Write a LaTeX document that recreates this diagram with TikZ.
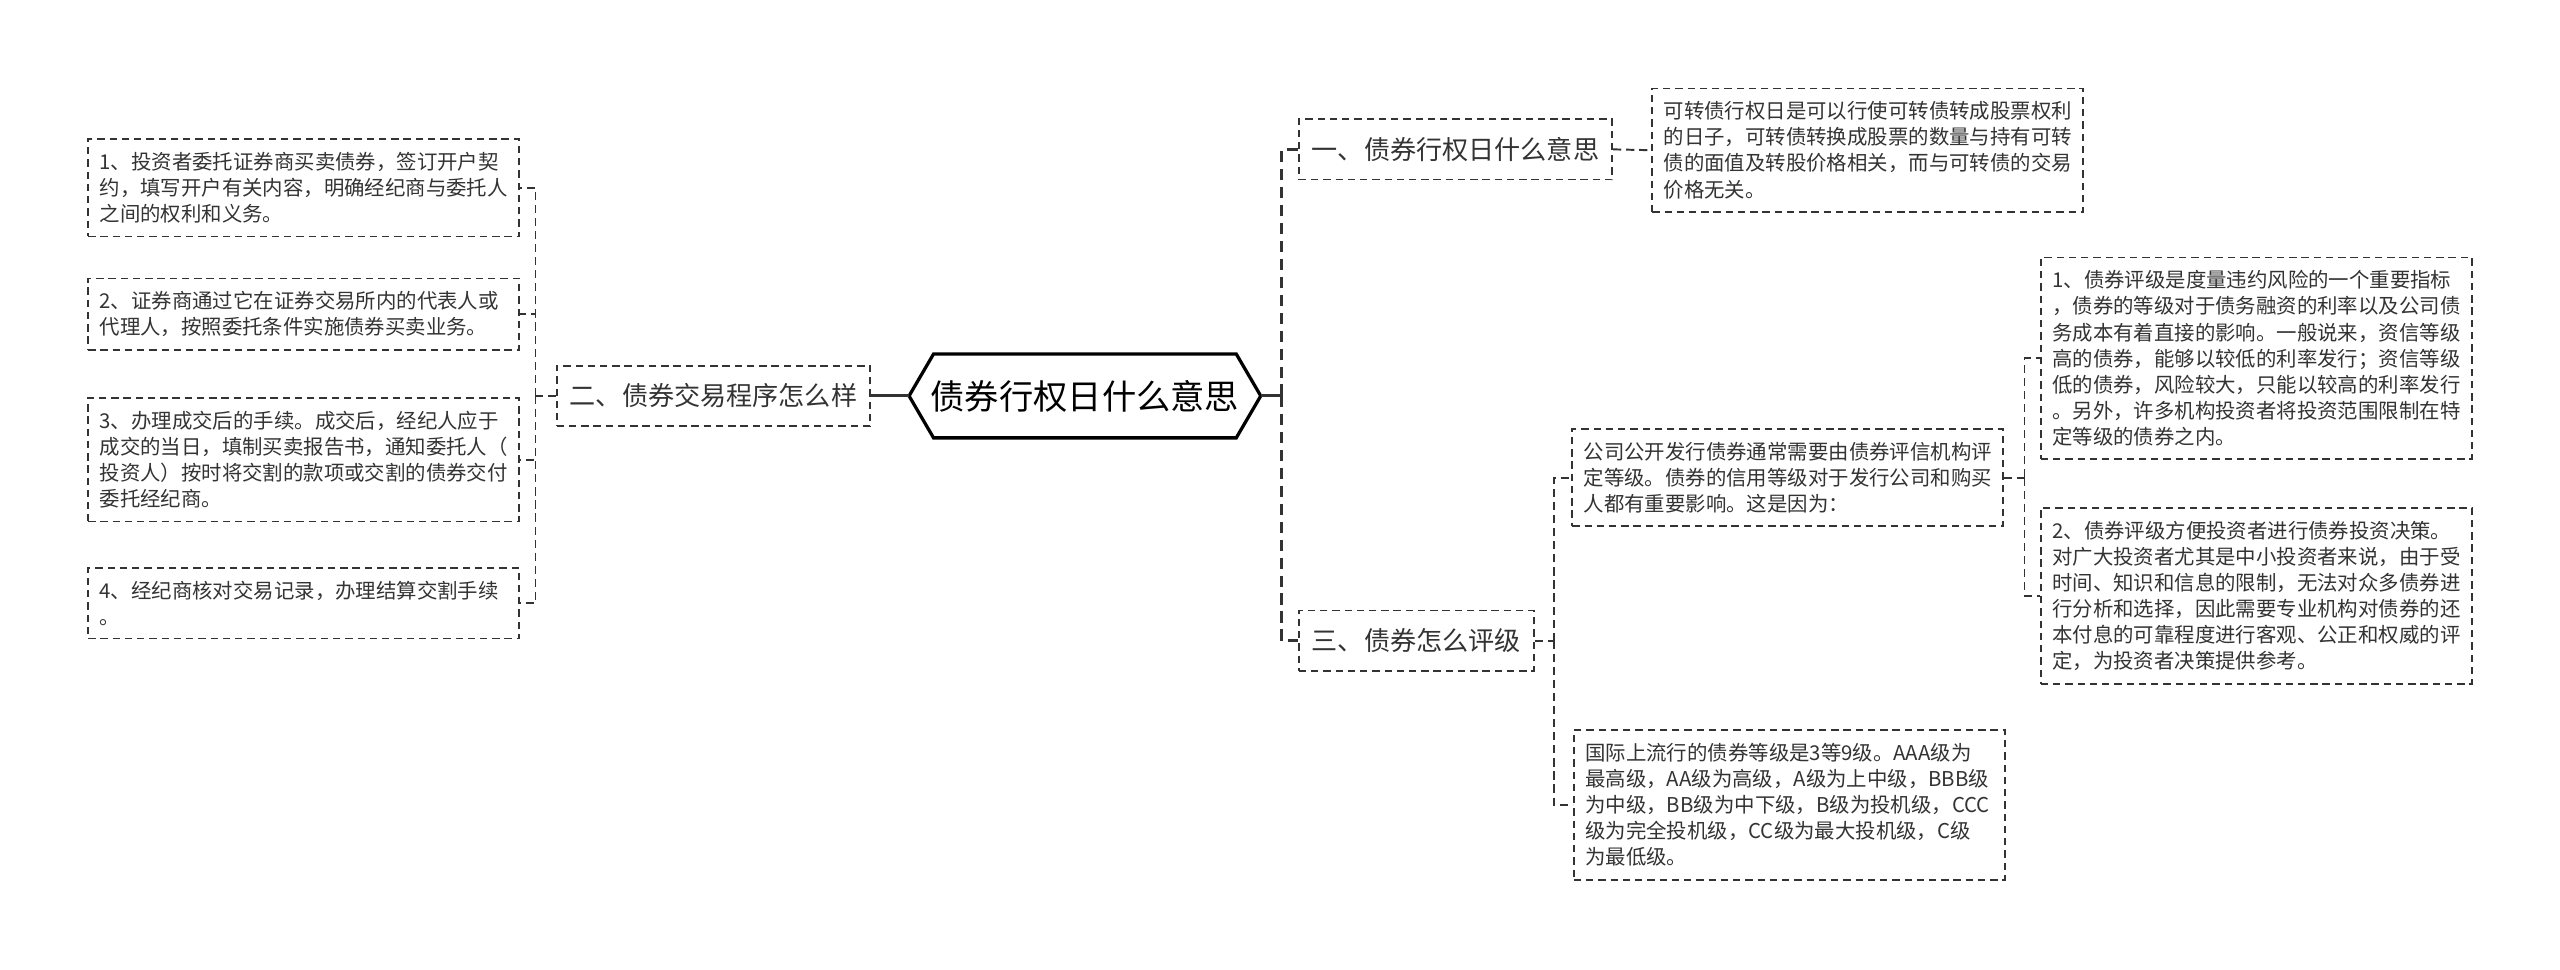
\documentclass[tikz,border=0pt]{standalone}
\usepackage{fontspec}
\setmainfont{Noto Sans CJK SC}
\usepackage{tikz}
\usetikzlibrary{positioning}
\definecolor{inkgray}{HTML}{333333}
\definecolor{edgegray}{HTML}{333333}

\begin{document}
\begin{tikzpicture}[x=1pt,y=-1pt]

%--------------------------------------------------
% STYLES
%--------------------------------------------------

\tikzset{
leafbox/.style={
draw=edgegray,
dash pattern=on 4.5pt off 3pt,
line width=1pt,
text=inkgray,
text width=250pt,
align=left,
inner xsep=7pt,
inner ysep=8pt,
font=\fontsize{12.5pt}{16pt}\selectfont
},
branchbox/.style={
draw=edgegray,
dash pattern=on 4.5pt off 3pt,
line width=1pt,
text=inkgray,
inner xsep=8pt,
minimum height=37pt,
font=\fontsize{16pt}{19pt}\selectfont
},
rootbox/.style={
text=black,
minimum width=215pt,
minimum height=51pt,
inner sep=0pt,
font=\fontsize{21pt}{25pt}\selectfont
},
link/.style={
draw=edgegray,
line width=1.2pt,
dash pattern=on 5pt off 3pt
},
rootlink/.style={
draw=edgegray,
line width=1.8pt,
dash pattern=on 7pt off 4pt
}
}

\useasboundingbox[fill=white] (0,0) rectangle (1568,594);

%--------------------------------------------------
% ROOT
%--------------------------------------------------

\node[rootbox] (root) at (664.5,242.5)
{债券行权日什么意思};

\draw[line width=2pt,black,line join=miter]
(root.west)--([xshift=15pt]root.north west)--([xshift=-15pt]root.north east)
--(root.east)--([xshift=-15pt]root.south east)--([xshift=15pt]root.south west)--cycle;

%--------------------------------------------------
% LEFT: TRADING STEPS
%--------------------------------------------------

\node[branchbox] (trade) at (437,242.5)
{二、债券交易程序怎么样};

\node[leafbox] (stepa) at (186,115)
{1、投资者委托证券商买卖债券，签订开户契\\约，填写开户有关内容，明确经纪商与委托人\\之间的权利和义务。};

\node[leafbox] (stepb) at (186,192.5)
{2、证券商通过它在证券交易所内的代表人或\\代理人，按照委托条件实施债券买卖业务。};

\node[leafbox] (stepc) at (186,281.5)
{3、办理成交后的手续。成交后，经纪人应于\\成交的当日，填制买卖报告书，通知委托人（\\投资人）按时将交割的款项或交割的债券交付\\委托经纪商。};

\node[leafbox] (stepd) at (186,369.5)
{4、经纪商核对交易记录，办理结算交割手续\\。};

%--------------------------------------------------
% RIGHT: MEANING
%--------------------------------------------------

\node[branchbox] (meaning) at (891.5,91.5)
{一、债券行权日什么意思};

\node[leafbox] (meaningtxt) at (1144,92)
{可转债行权日是可以行使可转债转成股票权利\\的日子，可转债转换成股票的数量与持有可转\\债的面值及转股价格相关，而与可转债的交易\\价格无关。};

%--------------------------------------------------
% RIGHT: RATING
%--------------------------------------------------

\node[branchbox] (rating) at (867.5,392.5)
{三、债券怎么评级};

\node[leafbox] (ratingwhy) at (1095,292.5)
{公司公开发行债券通常需要由债券评信机构评\\定等级。债券的信用等级对于发行公司和购买\\人都有重要影响。这是因为：};

\node[leafbox] (ratingscale) at (1096,493)
{国际上流行的债券等级是3等9级。AAA级为\\最高级，AA级为高级，A级为上中级，BBB级\\为中级，BB级为中下级，B级为投机级，CCC\\级为完全投机级，CC级为最大投机级，C级\\为最低级。};

\node[leafbox] (reasona) at (1382,219.5)
{1、债券评级是度量违约风险的一个重要指标\\，债券的等级对于债务融资的利率以及公司债\\务成本有着直接的影响。一般说来，资信等级\\高的债券，能够以较低的利率发行；资信等级\\低的债券，风险较大，只能以较高的利率发行\\。另外，许多机构投资者将投资范围限制在特\\定等级的债券之内。};

\node[leafbox] (reasonb) at (1382,365)
{2、债券评级方便投资者进行债券投资决策。\\对广大投资者尤其是中小投资者来说，由于受\\时间、知识和信息的限制，无法对众多债券进\\行分析和选择，因此需要专业机构对债券的还\\本付息的可靠程度进行客观、公正和权威的评\\定，为投资者决策提供参考。};

%--------------------------------------------------
% CONNECTORS
%--------------------------------------------------

\coordinate (jroot) at (785,242.5);
\coordinate (jtrade) at (328,242.5);
\coordinate (jrating) at (952,392.5);
\coordinate (jwhy) at (1240,292.5);

\draw[line width=1.8pt,edgegray] (root.west)--(trade.east);
\draw[line width=1.8pt,edgegray] (root.east)--(jroot);
\draw[rootlink] (jroot) |- (meaning.west);
\draw[rootlink] (jroot) |- (rating.west);

\draw[link] (trade.west)--(jtrade);
\foreach \leaf in {stepa,stepb,stepc,stepd}
{
\draw[link] (jtrade) |- (\leaf.east);
}

\draw[link] (meaning.east)--(meaningtxt.west);

\draw[link] (rating.east)--(jrating);
\draw[link] (jrating) |- (ratingwhy.west);
\draw[link] (jrating) |- (ratingscale.west);

\draw[link] (ratingwhy.east)--(jwhy);
\draw[link] (jwhy) |- (reasona.west);
\draw[link] (jwhy) |- (reasonb.west);

\end{tikzpicture}
\end{document}
